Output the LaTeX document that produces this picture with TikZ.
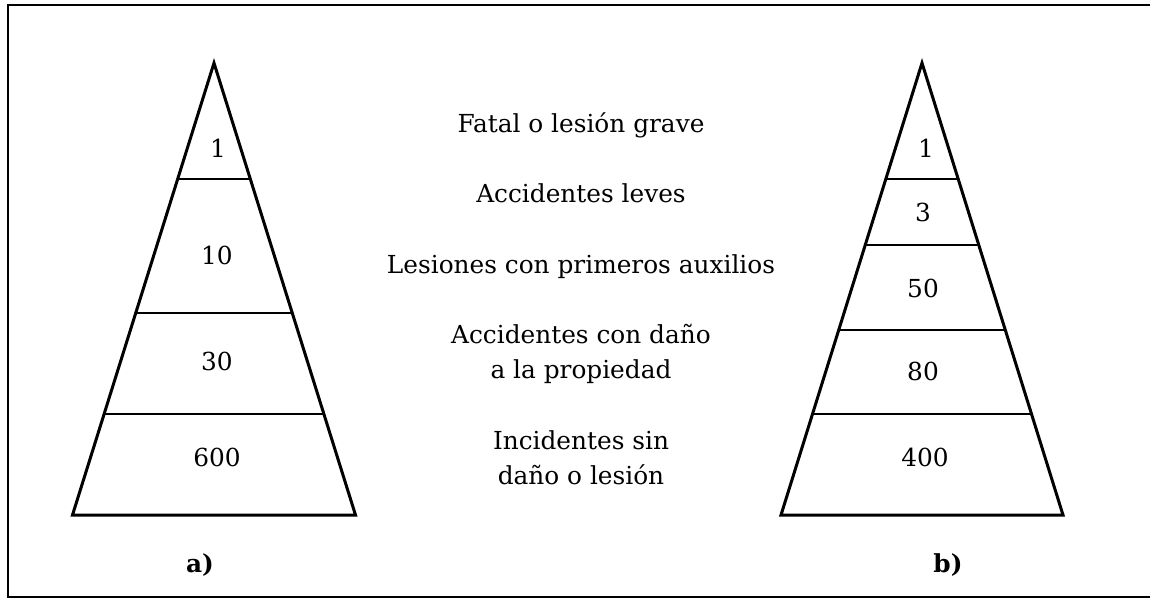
\documentclass[tikz,border=0pt]{standalone}
\usepackage{fontspec}
\setmainfont{DejaVu Serif}
\usetikzlibrary{calc}

\begin{document}
\begin{tikzpicture}
         [x=0.5pt,y=-0.5pt,line join=miter,
          side/.style={line width=1.5pt},
          layer/.style={line width=1.1pt},
          every node/.style={inner sep=0pt,anchor=base,font=\fontsize{12.4}{17.5}\selectfont},
          level/.style={align=center},
          tag/.style={font=\fontsize{12.4}{17.5}\selectfont\bfseries}]
         \useasboundingbox (0,0) rectangle (1150,599);
         % marco
         \coordinate (fTR) at (1150,5);
         \coordinate (fTL) at (8,5);
         \coordinate (fBL) at (8,597);
         \coordinate (fBR) at (1150,597);
         \draw[line width=1pt] (fTR) -- (fTL) -- (fBL) -- (fBR);
         % piramide a)
         \coordinate (aT) at (214,63);
         \coordinate (aL) at (72.5,515);
         \coordinate (aR) at (355.5,515);
         \draw[side] (aT) -- (aL) -- (aR) -- cycle;
         \foreach \t [count=\i] in {0.257,0.553,0.777} {
            \coordinate (a\i l) at ($(aT)!\t!(aL)$);
            \coordinate (a\i r) at ($(aT)!\t!(aR)$);
            \draw[layer] (a\i l) -- (a\i r);
         }
         \node (a1) at (218,157) {1};
         \node (a2) at (217,264) {10};
         \node (a3) at (217,370) {30};
         \node (a4) at (217,466) {600};
         \node[tag] (la) at (200,572) {a)};
         % piramide b)
         \coordinate (bT) at (922,63);
         \coordinate (bL) at (781,515);
         \coordinate (bR) at (1063,515);
         \draw[side] (bT) -- (bL) -- (bR) -- cycle;
         \foreach \t [count=\i] in {0.257,0.403,0.591,0.777} {
            \coordinate (b\i l) at ($(bT)!\t!(bL)$);
            \coordinate (b\i r) at ($(bT)!\t!(bR)$);
            \draw[layer] (b\i l) -- (b\i r);
         }
         \node (b1) at (926,157) {1};
         \node (b2) at (923,221) {3};
         \node (b3) at (923,297) {50};
         \node (b4) at (923,380) {80};
         \node (b5) at (925,466) {400};
         \node[tag] (lb) at (948,572) {b)};
         % niveles (base = ultima linea)
         \node[level] (fatal) at (581,133) {Fatal o lesión grave};
         \node[level] (leves) at (581,202) {Accidentes leves};
         \node[level] (auxilios) at (581,273) {Lesiones con primeros auxilios};
         \node[level] (propiedad) at (581,378) {Accidentes con daño\\a la propiedad};
         \node[level] (incidentes) at (581,484) {Incidentes sin\\daño o lesión};
       \end{tikzpicture}
\end{document}
